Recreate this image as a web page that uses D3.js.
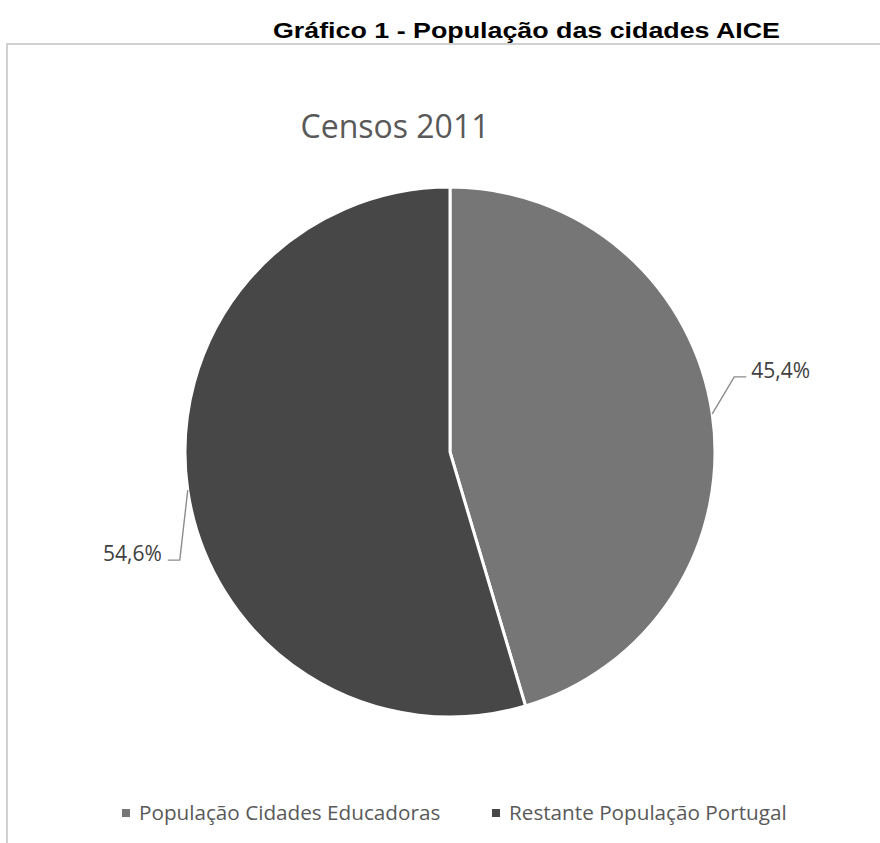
<!DOCTYPE html>
<html><head><meta charset="utf-8">
<script src="https://cdn.jsdelivr.net/npm/d3@7"></script>
<style>html,body{margin:0;padding:0;background:#fff;}svg{display:block;}</style>
</head><body>
<svg id="chart" width="880" height="843"></svg>
<script>
// ---- data ----
const categories = ["População Cidades Educadoras", "Restante População Portugal"];
const values = [45.4, 54.6];
const colors = ["#767676", "#474747"];
const chartTitle = "Gráfico 1 - População das cidades AICE";
const subTitle = "Censos 2011";

// ---- layout ----
const W = 880, H = 843;
const cx = 450, cy = 452, R = 265;
const svg = d3.select("#chart");
const locale = d3.formatLocale({decimal: ",", thousands: ".", grouping: [3], currency: ["", "€"]});
const fmt = locale.format(".1f");

// chart area border
svg.append("path")
  .attr("d", `M7,${H + 5} L7,44 L${W + 5},44`)
  .attr("fill", "none").attr("stroke", "#d0d0d0").attr("stroke-width", 2);

// main title
svg.append("text")
  .attr("x", 273).attr("y", 38)
  .attr("textLength", 507).attr("lengthAdjust", "spacingAndGlyphs")
  .style("font-family", "'Liberation Sans', Arial, sans-serif")
  .style("font-weight", "bold").style("font-size", "21.5px").attr("fill", "#000")
  .text(chartTitle);

// chart subtitle
svg.append("text")
  .attr("x", 395).attr("y", 138).attr("text-anchor", "middle")
  .style("font-family", "'Open Sans', sans-serif")
  .style("font-size", "32px").attr("fill", "#595959")
  .text(subTitle);

// pie
const pie = d3.pie().sort(null).value(d => d)(values);
const arc = d3.arc().innerRadius(0).outerRadius(R);
const g = svg.append("g").attr("transform", `translate(${cx},${cy})`);
g.selectAll("path.slice").data(pie).join("path")
  .attr("class", "slice")
  .attr("d", arc)
  .attr("fill", (d, i) => colors[i])
  .attr("stroke", "#fff").attr("stroke-width", 3).attr("stroke-linejoin", "miter");

// data labels with leader lines
const labelCfg = [
  {elbow: [22, -37], tail: 12, side: 1, textGap: 5},
  {elbow: [-8, 70], tail: -12, side: -1, textGap: 6}
];
pie.forEach((d, i) => {
  const a = (d.startAngle + d.endAngle) / 2;
  const sx = Math.sin(a) * R, sy = -Math.cos(a) * R;
  const c = labelCfg[i];
  const ex = sx + c.elbow[0], ey = sy + c.elbow[1];
  const tx = ex + c.tail;
  g.append("path")
    .attr("d", `M${sx},${sy} L${ex},${ey} L${tx},${ey}`)
    .attr("fill", "none").attr("stroke", "#8c8c8c").attr("stroke-width", 1.4);
  g.append("text")
    .attr("x", tx + c.side * c.textGap).attr("y", ey + 1)
    .attr("text-anchor", c.side > 0 ? "start" : "end")
    .style("font-family", "'Open Sans', sans-serif")
    .style("font-size", "21px").attr("fill", "#404040")
    .text(fmt(d.data) + "%");
});

// legend
const legendX = [122, 492];
const lg = svg.append("g");
categories.forEach((c, i) => {
  lg.append("rect").attr("x", legendX[i]).attr("y", 809).attr("width", 8).attr("height", 8)
    .attr("fill", colors[i]);
  lg.append("text").attr("x", legendX[i] + 17).attr("y", 820)
    .style("font-family", "'Open Sans', sans-serif")
    .style("font-size", "20.7px").attr("fill", "#595959")
    .text(c);
});
</script>
</body></html>
